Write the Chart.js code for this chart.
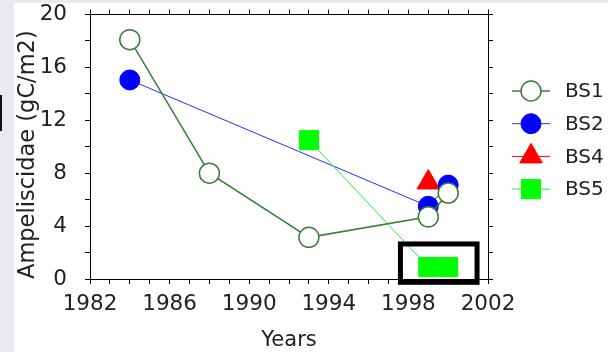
<!DOCTYPE html>
<html>
<head>
<meta charset="utf-8">
<script src="https://cdn.jsdelivr.net/npm/chart.js@4/dist/chart.umd.min.js"></script>
<style>
  html, body { margin: 0; padding: 0; background: #fff; }
  #wrap { width: 608px; height: 352px; }
</style>
</head>
<body>
<div id="wrap"><canvas id="chart" width="608" height="352"></canvas></div>
<script>
// ---------------- data ----------------
const seriesNames = ['BS1', 'BS2', 'BS4', 'BS5'];
const bs1Years = [1984, 1988, 1993, 1999, 2000];
const bs1Values = [18.1, 8.0, 3.15, 4.7, 6.5];
const bs2Years = [1984, 1999, 2000];
const bs2Values = [15.05, 5.5, 7.1];
const bs4Years = [1999];
const bs4Values = [7.3];
const bs5Years = [1993, 1999, 2000];
const bs5Values = [10.5, 0.9, 0.9];
const xTickLabels = [1982, 1986, 1990, 1994, 1998, 2002];
const yTickLabels = [0, 4, 8, 12, 16, 20];
// highlighted region (years / values): x0, x1, y0, y1
const highlightBox = [1997.6, 2001.45, 2.65, -0.25];

const FONT = "'DejaVu Sans', sans-serif";
const INK = '#222';

function pts(xs, ys) {
  return xs.map((x, i) => ({ x: x, y: ys[i] }));
}

// ---------------- plugins ----------------
const pageBackground = {
  id: 'pageBackground',
  beforeDraw(chart) {
    const ctx = chart.ctx;
    ctx.save();
    ctx.fillStyle = '#e8eaed';
    ctx.fillRect(0, 0, chart.width, chart.height);
    ctx.fillStyle = '#fff';
    ctx.fillRect(14, 3, chart.width - 14, chart.height - 3);
    ctx.fillStyle = '#111';
    ctx.fillRect(0, 95, 2, 36); // stray edge mark in the screenshot
    ctx.restore();
  }
};

const frameAndBox = {
  id: 'frameAndBox',
  afterDatasetsDraw(chart) {
    const ctx = chart.ctx;
    const xs = chart.scales.x, ys = chart.scales.y;
    ctx.save();
    ctx.strokeStyle = '#000';
    ctx.lineWidth = 5;
    const l = xs.getPixelForValue(highlightBox[0]);
    const r = xs.getPixelForValue(highlightBox[1]);
    const t = ys.getPixelForValue(highlightBox[2]);
    const b = ys.getPixelForValue(highlightBox[3]);
    ctx.strokeRect(l, t, r - l, b - t);
    ctx.restore();
  }
};

// datasets in legend order (BS1, BS2, BS4, BS5), draw order set with `order`
const datasets = [
  {
    label: seriesNames[0], data: pts(bs1Years, bs1Values),
    borderColor: '#3b7d3b', borderWidth: 1.5,
    pointStyle: 'circle', pointRadius: 10,
    pointBackgroundColor: '#fff', pointBorderColor: '#3b7d3b', pointBorderWidth: 1.5,
    order: 1
  },
  {
    label: seriesNames[1], data: pts(bs2Years, bs2Values),
    borderColor: '#2b2bff', borderWidth: 1,
    pointStyle: 'circle', pointRadius: 10,
    pointBackgroundColor: '#0000ff', pointBorderColor: '#0000ff', pointBorderWidth: 1,
    order: 3
  },
  {
    label: seriesNames[2], data: pts(bs4Years, bs4Values),
    borderColor: '#ff0000', borderWidth: 1,
    pointStyle: 'triangle', pointRadius: 13,
    pointBackgroundColor: '#ff0000', pointBorderColor: '#ff0000', pointBorderWidth: 1,
    order: 4
  },
  {
    label: seriesNames[3], data: pts(bs5Years, bs5Values),
    borderColor: '#33e833', borderWidth: 1,
    pointStyle: 'rect', pointRadius: 13.5,
    pointBackgroundColor: '#00ff00', pointBorderColor: '#00ff00', pointBorderWidth: 1,
    order: 2
  }
];

const sideLegend = {
  id: 'sideLegend',
  afterDraw(chart) {
    const ctx = chart.ctx;
    const x0 = chart.chartArea.right + 24;
    const x1 = x0 + 38;
    ctx.save();
    chart.data.datasets.forEach((ds, i) => {
      const y = 91 + i * 32.7;
      ctx.strokeStyle = ds.borderColor;
      ctx.lineWidth = ds.borderWidth;
      ctx.beginPath();
      ctx.moveTo(x0, y);
      ctx.lineTo(x1, y);
      ctx.stroke();
      ctx.fillStyle = ds.pointBackgroundColor;
      ctx.strokeStyle = ds.pointBorderColor;
      ctx.lineWidth = ds.pointBorderWidth;
      Chart.helpers.drawPoint(ctx, {
        pointStyle: ds.pointStyle,
        radius: ds.pointRadius,
        rotation: 0,
        borderWidth: ds.pointBorderWidth
      }, (x0 + x1) / 2, y);
      ctx.fillStyle = INK;
      ctx.font = '20px ' + FONT;
      ctx.textBaseline = 'middle';
      ctx.fillText(ds.label, x1 + 15, y + 1);
    });
    ctx.restore();
  }
};

// ---------------- chart ----------------
const gridOpts = { drawOnChartArea: false, color: '#000', tickColor: '#000', tickLength: 5, tickWidth: 1 };
const borderOpts = { color: '#000', width: 1 };
const yearTicks = s => { s.ticks = []; for (let v = 1982; v <= 2002; v++) s.ticks.push({ value: v }); };
const noPadV = s => { s.paddingTop = 0; s.paddingBottom = 0; };

new Chart(document.getElementById('chart'), {
  type: 'line',
  data: { datasets: datasets },
  options: {
    responsive: false,
    animation: false,
    devicePixelRatio: 1,
    layout: { padding: 0 },
    plugins: { legend: { display: false }, tooltip: { enabled: false } },
    scales: {
      x: {
        type: 'linear', position: 'bottom', min: 1982, max: 2002,
        grid: gridOpts, border: borderOpts,
        afterBuildTicks: yearTicks,
        ticks: {
          autoSkip: false, maxRotation: 0, padding: 8, color: INK,
          font: { family: FONT, size: 21.5 },
          callback: v => xTickLabels.includes(v) ? String(v) : ''
        },
        title: { display: true, text: 'Years', color: INK, font: { family: FONT, size: 21 }, padding: { top: 0, bottom: -1 } },
        afterFit: s => { s.height = 73; s.paddingLeft = 0; s.paddingRight = 0; }
      },
      xTop: {
        type: 'linear', position: 'top', min: 1982, max: 2002,
        grid: gridOpts, border: borderOpts,
        afterBuildTicks: yearTicks,
        ticks: { autoSkip: false, padding: 0, callback: () => '' },
        afterFit: s => { s.height = 13; s.paddingLeft = 0; s.paddingRight = 0; }
      },
      y: {
        type: 'linear', position: 'left', min: 0, max: 20,
        grid: gridOpts, border: borderOpts,
        ticks: {
          stepSize: 2, autoSkip: false, padding: 18, color: INK,
          font: { family: FONT, size: 21.5 },
          callback: v => yTickLabels.includes(v) ? String(v) : ''
        },
        title: {
          display: true, text: 'Ampeliscidae (gC/m2)', color: INK, align: 'start',
          font: { family: FONT, size: 22.5 }, padding: { top: 15, bottom: 0 }
        },
        afterFit: s => { s.width = 90; noPadV(s); }
      },
      yRight: {
        type: 'linear', position: 'right', min: 0, max: 20,
        grid: gridOpts, border: borderOpts,
        ticks: { stepSize: 2, autoSkip: false, callback: () => '' },
        afterFit: s => { s.width = 120; noPadV(s); }
      }
    }
  },
  plugins: [pageBackground, frameAndBox, sideLegend]
});
</script>
</body>
</html>
